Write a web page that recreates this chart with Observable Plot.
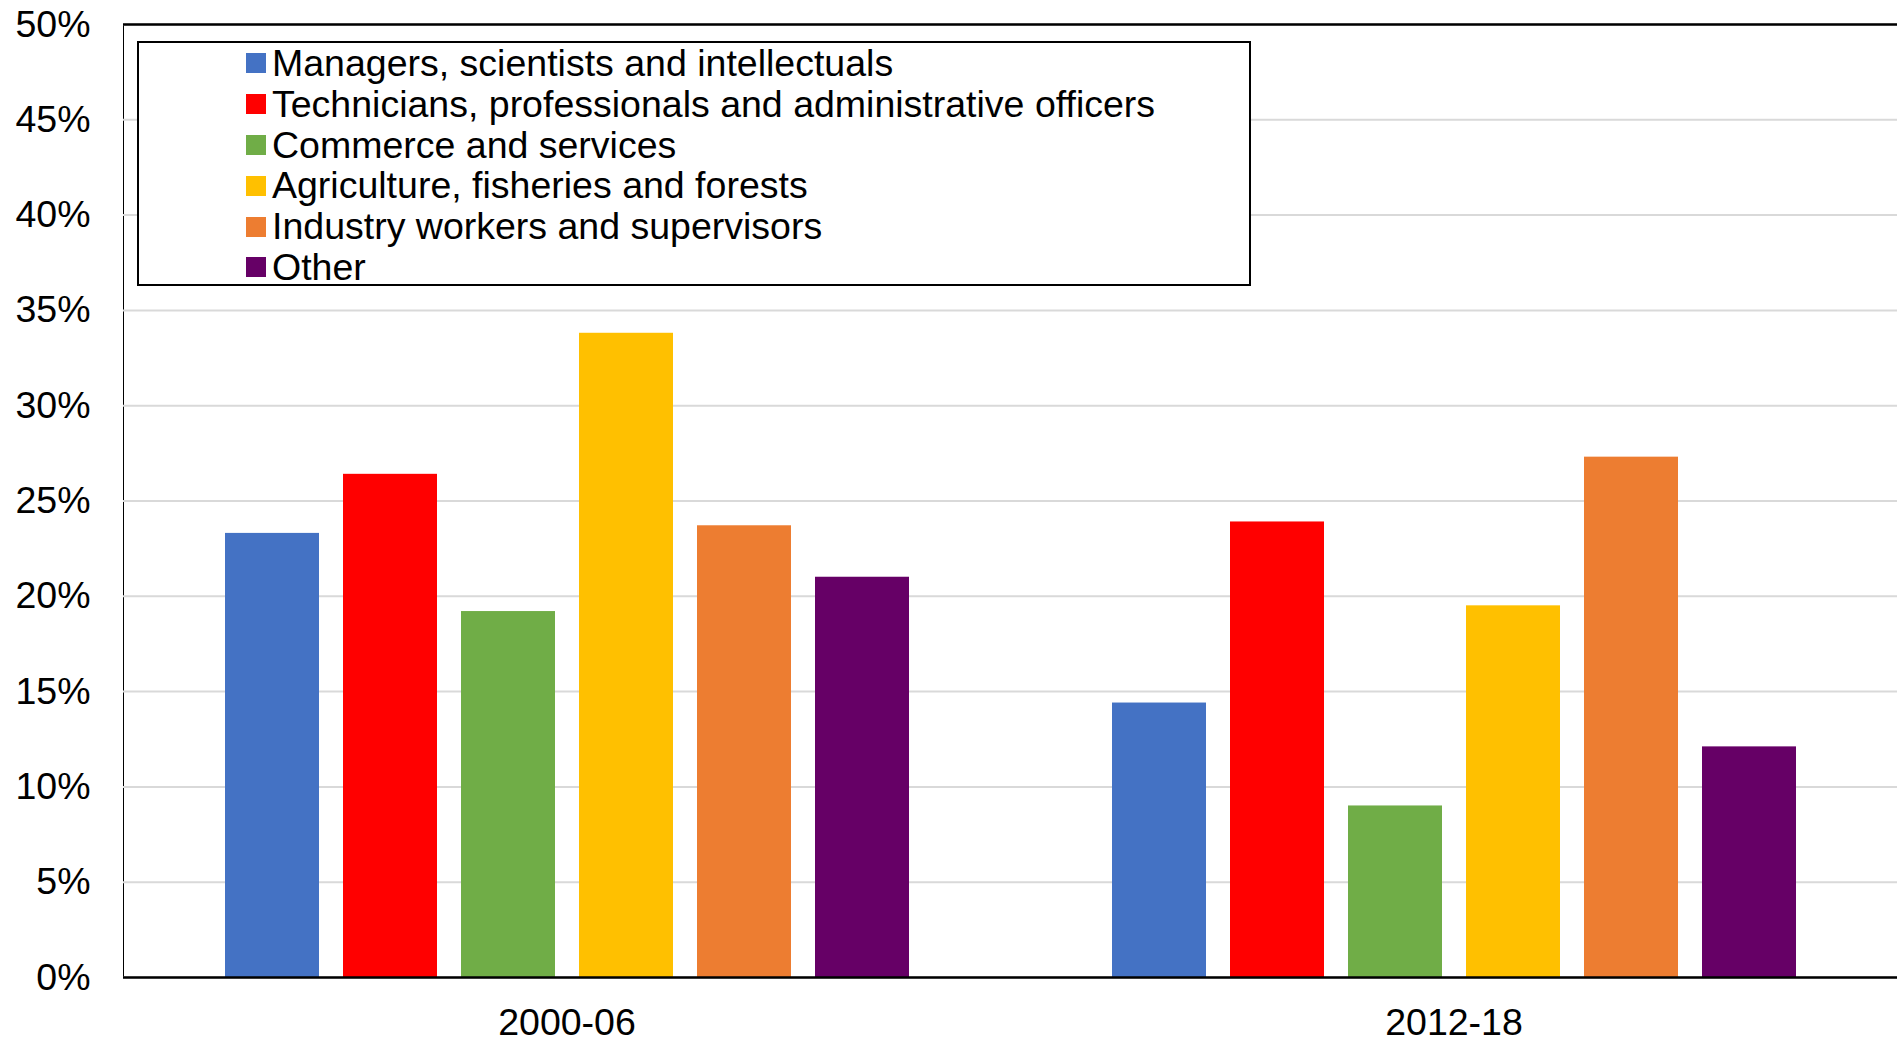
<!DOCTYPE html>
<html>
<head>
<meta charset="utf-8">
<script src="https://cdn.jsdelivr.net/npm/d3@7"></script>
<script src="https://cdn.jsdelivr.net/npm/@observablehq/plot@0.6"></script>
<style>
  html, body { margin: 0; padding: 0; background: #fff; }
  #wrap { position: relative; width: 1897px; height: 1041px; font-family: "Liberation Sans", Arial, sans-serif; }
  #legend {
    position: absolute; left: 137px; top: 41px; width: 1110px; height: 241px;
    border: 2px solid #000; background: #fff; box-sizing: content-box;
  }
  #legend .row { height: 40.8px; display: flex; align-items: center; padding-left: 107px; font-size: 37.5px; color: #000; white-space: nowrap; }
  #legend .sw { width: 20px; height: 20px; margin-right: 6px; flex: none; }
</style>
</head>
<body>
<div id="wrap"><div id="legend"></div></div>
<script>
const periods = ["2000-06", "2012-18"];
const categories = [
  "Managers, scientists and intellectuals",
  "Technicians, professionals and administrative officers",
  "Commerce and services",
  "Agriculture, fisheries and forests",
  "Industry workers and supervisors",
  "Other"
];
const values2000 = [23.3, 26.4, 19.2, 33.8, 23.7, 21.0];
const values2012 = [14.4, 23.9, 9.0, 19.5, 27.3, 12.1];
const colors = ["#4472C4", "#FF0000", "#70AD47", "#FFC000", "#ED7D31", "#660066"];
const yTicks = [0, 5, 10, 15, 20, 25, 30, 35, 40, 45, 50];

const data = [];
categories.forEach((c, i) => data.push({period: periods[0], category: c, value: values2000[i]}));
categories.forEach((c, i) => data.push({period: periods[1], category: c, value: values2012[i]}));

const chart = Plot.plot({
  width: 1897,
  height: 1041,
  marginLeft: 123,
  marginRight: 0,
  marginTop: 24,
  marginBottom: 64,
  style: {fontFamily: "'Liberation Sans', Arial, sans-serif", fontSize: "37.5px", color: "#000", background: "#fff", overflow: "visible"},
  fx: {domain: periods, padding: 0, label: null, axis: "bottom", tickSize: 0, tickPadding: 31},
  x: {domain: categories, paddingInner: 0.207, paddingOuter: 0.847, axis: null},
  y: {domain: [0, 50], ticks: yTicks, tickFormat: d => d + "%", label: null, tickSize: 0, tickPadding: 33, line: true},
  color: {domain: categories, range: colors},
  marks: [
    Plot.gridY(yTicks, {stroke: "#d9d9d9", strokeWidth: 2, strokeOpacity: 1}),
    Plot.barY(data, {fx: "period", x: "category", y: "value", fill: "category"}),
    Plot.ruleY([0], {stroke: "#000", strokeWidth: 2.5}),
    Plot.ruleY([50], {stroke: "#000", strokeWidth: 2.5})
  ]
});
document.getElementById("wrap").prepend(chart);

const legend = document.getElementById("legend");
categories.forEach((c, i) => {
  const row = document.createElement("div");
  row.className = "row";
  const sw = document.createElement("span");
  sw.className = "sw";
  sw.style.background = colors[i];
  const t = document.createElement("span");
  t.textContent = c;
  row.appendChild(sw);
  row.appendChild(t);
  legend.appendChild(row);
});
</script>
</body>
</html>
